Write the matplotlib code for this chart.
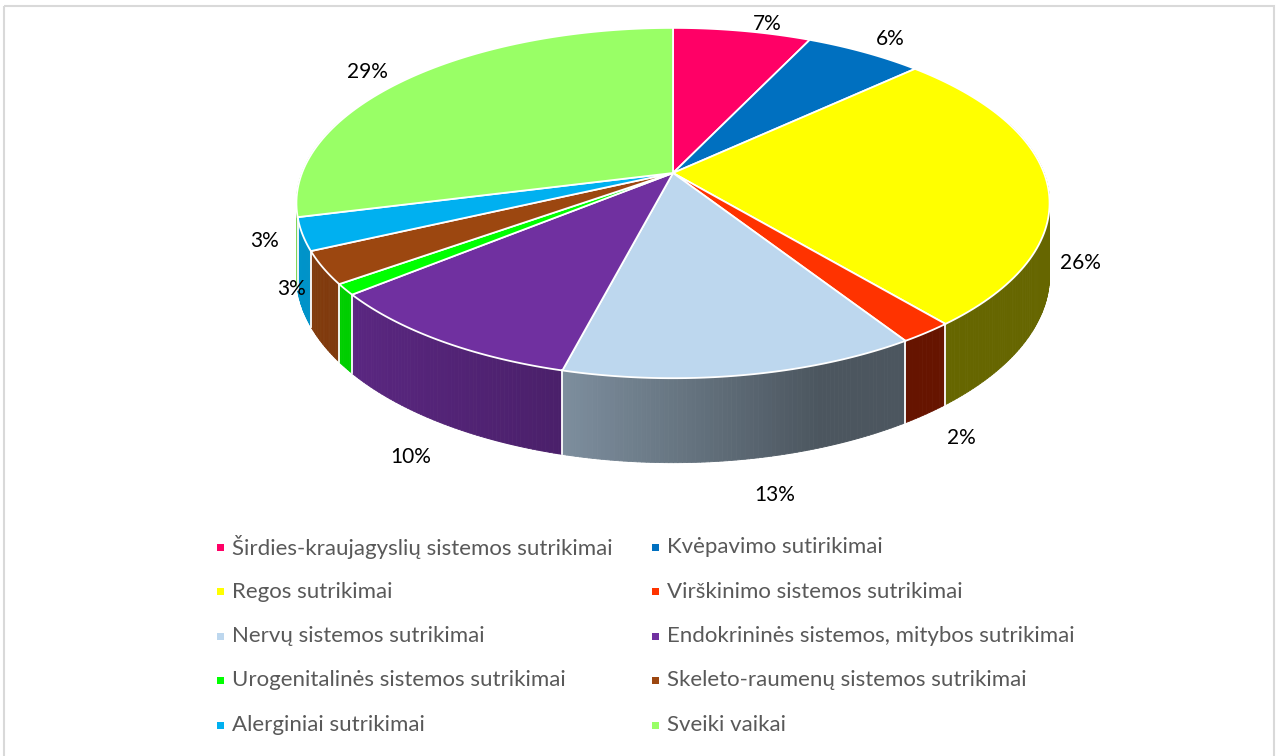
import numpy as np
import matplotlib
matplotlib.use("Agg")
import matplotlib.pyplot as plt
from matplotlib.patches import Polygon, Rectangle
from matplotlib.collections import PolyCollection

# data
categories = [
    "Širdies-kraujagyslių sistemos sutrikimai",
    "Kvėpavimo sutirikimai",
    "Regos sutrikimai",
    "Virškinimo sistemos sutrikimai",
    "Nervų sistemos sutrikimai",
    "Endokrininės sistemos, mitybos sutrikimai",
    "Urogenitalinės sistemos sutrikimai",
    "Skeleto-raumenų sistemos sutrikimai",
    "Alerginiai sutrikimai",
    "Sveiki vaikai",
]
values = [7, 6, 26, 2, 13, 10, 1, 3, 3, 29]
show_label = [True, True, True, True, True, True, False, True, True, True]

colors = ["#FF0066", "#0070C0", "#FFFF00", "#FF3300", "#BDD7EE",
          "#7030A0", "#00FF00", "#9C4710", "#00B0F0", "#99FF66"]

# layout of the fake 3d pie (pixels)
CX, CY = 673, 173
RX, RY = 371, 170
K = 0.1715      # perspective
H = 70          # depth
label_r = 1.1
label_drop = [0, 0, 1.1, 1.05, 1.15, 1.15, 0, 0.15, 0, 0]
label_dx = [19, 9, -5, 5, 23, -2, 0, 7, 2, -17]
label_dy = [5, -3, 0, 0, -4, 0, 0, -1, 0, 2]


def proj(theta, r=1.0, z=0.0):
    u = r * np.sin(theta)
    v = r * np.cos(theta)
    w = 1 + K * v
    return CX + RX * u / w, CY - RY * v / w + H * z / w


def shade(x):
    return np.interp(x, [300, 565, 820, 1050], [0.84, 0.66, 0.40, 0.40])


fig = plt.figure(figsize=(12.78, 7.56), dpi=100)
ax = fig.add_axes([0, 0, 1, 1])
ax.set_xlim(0, 1278)
ax.set_ylim(756, 0)
ax.axis("off")

# border
ax.add_patch(Rectangle((3.5, 6), 1270, 760, fill=False, ec="#D9D9D9", lw=1.5))

total = sum(values)
bounds = np.concatenate([[0], np.cumsum(values)]) / total * 2 * np.pi

# side faces
quads, qcols, depth = [], [], []
for i, c in enumerate(colors):
    t0, t1 = bounds[i], bounds[i + 1]
    n = max(3, int((t1 - t0) / 0.01))
    ts = np.linspace(t0, t1, n + 1)
    rgb = np.array(matplotlib.colors.to_rgb(c))
    for a, b in zip(ts[:-1], ts[1:]):
        if np.cos((a + b) / 2) > 0.3:
            continue
        p1 = proj(a); p2 = proj(b); p3 = proj(b, z=1); p4 = proj(a, z=1)
        xm = (p1[0] + p2[0]) / 2
        quads.append([p1, p2, p3, p4])
        qcols.append(np.clip(rgb * shade(xm), 0, 1))
        depth.append(np.cos((a + b) / 2))
order = np.argsort(depth)[::-1]
ax.add_collection(PolyCollection([quads[j] for j in order],
                                 facecolors=[qcols[j] for j in order],
                                 edgecolors=[qcols[j] for j in order], lw=0.6))

# white edges on the side between slices
for t in bounds[:-1]:
    if np.cos(t) < -0.15:
        p_top = proj(t); p_bot = proj(t, z=1)
        ax.plot([p_top[0], p_bot[0]], [p_top[1], p_bot[1]], color="white", lw=1.3)

# top faces
for i, c in enumerate(colors):
    ts = np.linspace(bounds[i], bounds[i + 1], 80)
    pts = [(CX, CY)] + [proj(t) for t in ts]
    ax.add_patch(Polygon(pts, closed=True, fc=c, ec="white", lw=1.3, joinstyle="round"))

# percentage labels
for i, v in enumerate(values):
    if not show_label[i]:
        continue
    mid = (bounds[i] + bounds[i + 1]) / 2
    x, y = proj(mid, r=label_r, z=label_drop[i])
    ax.text(x + label_dx[i], y + label_dy[i], f"{v}%", ha="center", va="center",
            fontsize=15, family="Lato", color="#000000")

# legend
for i, name in enumerate(categories):
    row, col = i // 2, i % 2
    lx = 220 + col * 435
    ly = 547 + row * 44.5
    ax.add_patch(Rectangle((lx - 3.5, ly - 3.5), 7, 7, fc=colors[i], ec="none"))
    ax.text(lx + 12, ly, name, ha="left", va="center", fontsize=16,
            family="Lato", color="#595959")

fig.savefig("out.png", dpi=100)
